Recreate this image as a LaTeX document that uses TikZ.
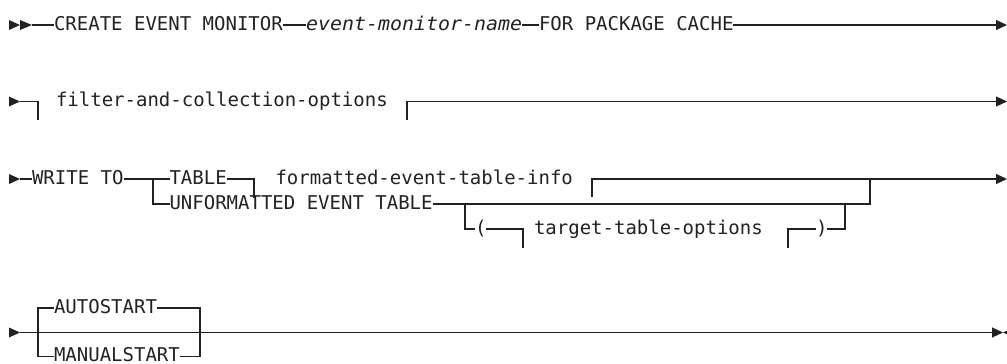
\documentclass[tikz,border=0pt]{standalone}
\usepackage{fontspec}
\usepackage{graphicx}
\setmonofont{DejaVu Sans Mono}
\usetikzlibrary{arrows.meta}
\definecolor{ink}{HTML}{222222}
\begin{document}
\ttfamily\fontsize{19}{22}\selectfont
\begin{tikzpicture}[x=1pt,y=-1pt,
  line/.style={draw=ink,line width=1.1pt},
  txt/.style={anchor=mid west,inner sep=0pt,outer sep=0pt,text=ink,font=\ttfamily\fontsize{19}{22}\selectfont},
  var/.style={txt,font=\ttfamily\itshape\fontsize{19}{22}\selectfont},
  endarrow/.style={-{Triangle[length=11pt,width=10pt]}}]
\useasboundingbox (0,0) rectangle (1007,364);
\fill[white] (0,0) rectangle (1007,364);
\clip (0,0) rectangle (1007,364);

% ---------- row 1
\fill[ink] (9,20) -- (20,25) -- (9,30) -- cycle;
\fill[ink] (20,20) -- (32,25) -- (20,30) -- cycle;
\coordinate (s1) at (32,25);
\node[txt] (create) at (54,25) {CREATE EVENT MONITOR};
\node[var] (emname) at (306,25) {\scalebox{1.05}[1]{event-monitor-name}};
\node[txt] (forpkg) at (539,25) {FOR PACKAGE CACHE};
\coordinate (e1) at (1007,25);
\draw[line] (s1) -- (create.mid west);
\draw[line] (create.mid east) -- (emname.mid west);
\draw[line] (emname.mid east) -- (forpkg.mid west);
\draw[line,endarrow] (forpkg.mid east) -- (e1);

% ---------- row 2
\fill[ink] (9,96.5) -- (20,101.5) -- (9,106.5) -- cycle;
\coordinate (s2) at (20,101.5);
\coordinate (b2a) at (38,101.5);
\coordinate (b2ad) at (38,120);
\node[txt] (filter) at (56,101.5) {filter-and-collection-options};
\coordinate (b2b) at (407,101.5);
\coordinate (b2bd) at (407,120);
\coordinate (e2) at (1007,101.5);
\draw[line] (s2) -- (b2a) -- (b2ad);
\draw[line,endarrow] (b2bd) -- (b2b) -- (e2);

% ---------- row 3
\fill[ink] (9,174) -- (20,179) -- (9,184) -- cycle;
\coordinate (s3) at (20,179);
\node[txt] (write) at (32,179) {WRITE TO};
\coordinate (j1) at (153,179);
\coordinate (j1d) at (153,204);
\node[txt] (table) at (169.5,179) {TABLE};
\node[txt] (unf) at (169.5,204) {UNFORMATTED EVENT TABLE};
\coordinate (b3a) at (254,179);
\coordinate (b3ad) at (254,198);
\node[txt] (fmt) at (275.5,179) {formatted-event-table-info};
\coordinate (b3b) at (592,179);
\coordinate (b3bd) at (592,197);
\coordinate (j2) at (870,179);
\coordinate (j2d) at (870,204);
\coordinate (e3) at (1007,179);
\coordinate (j3) at (465,204);
\coordinate (j3d) at (465,229);
\node[txt] (lp) at (475,229) {(};
\coordinate (b3c) at (523,229);
\coordinate (b3cd) at (523,248);
\node[txt] (tto) at (534,229) {target-table-options};
\coordinate (b3e) at (788,229);
\coordinate (b3ed) at (788,248);
\node[txt] (rp) at (816,229) {)};
\coordinate (j4) at (845,229);
\coordinate (j4u) at (845,204);
\draw[line] (s3) -- (write.mid west);
\draw[line] (write.mid east) -- (j1) -- (table.mid west);
\draw[line] (j1) -- (j1d) -- (unf.mid west);
\draw[line] (table.mid east) -- (b3a) -- (b3ad);
\draw[line] (b3bd) -- (b3b) -- (j2);
\draw[line] (unf.mid east) -- (j2d) -- (j2);
\draw[line,endarrow] (j2) -- (e3);
\draw[line] (j3) -- (j3d) -- (lp.mid west);
\draw[line] (lp.mid east) -- (b3c) -- (b3cd);
\draw[line] (b3ed) -- (b3e) -- (rp.mid west);
\draw[line] (rp.mid east) -- (j4) -- (j4u);

% ---------- row 4
\fill[ink] (9,327.5) -- (20,332.5) -- (9,337.5) -- cycle;
\coordinate (s4) at (20,332.5);
\coordinate (k1u) at (38,308);
\coordinate (k1d) at (38,356.5);
\node[txt] (auto) at (54,308) {AUTOSTART};
\node[txt] (man) at (54,356.5) {MANUALSTART};
\coordinate (k2u) at (200,308);
\coordinate (k2d) at (200,356.5);
\coordinate (e4) at (1003,332.5);
\draw[line,endarrow] (s4) -- (e4);
\draw[line] (auto.mid west) -- (k1u) -- (k1d) -- (man.mid west);
\draw[line] (auto.mid east) -- (k2u) -- (k2d) -- (man.mid east);
\fill[ink] (1003,332.5) -- (1014,327.5) -- (1014,337.5) -- cycle;
\end{tikzpicture}
\end{document}
